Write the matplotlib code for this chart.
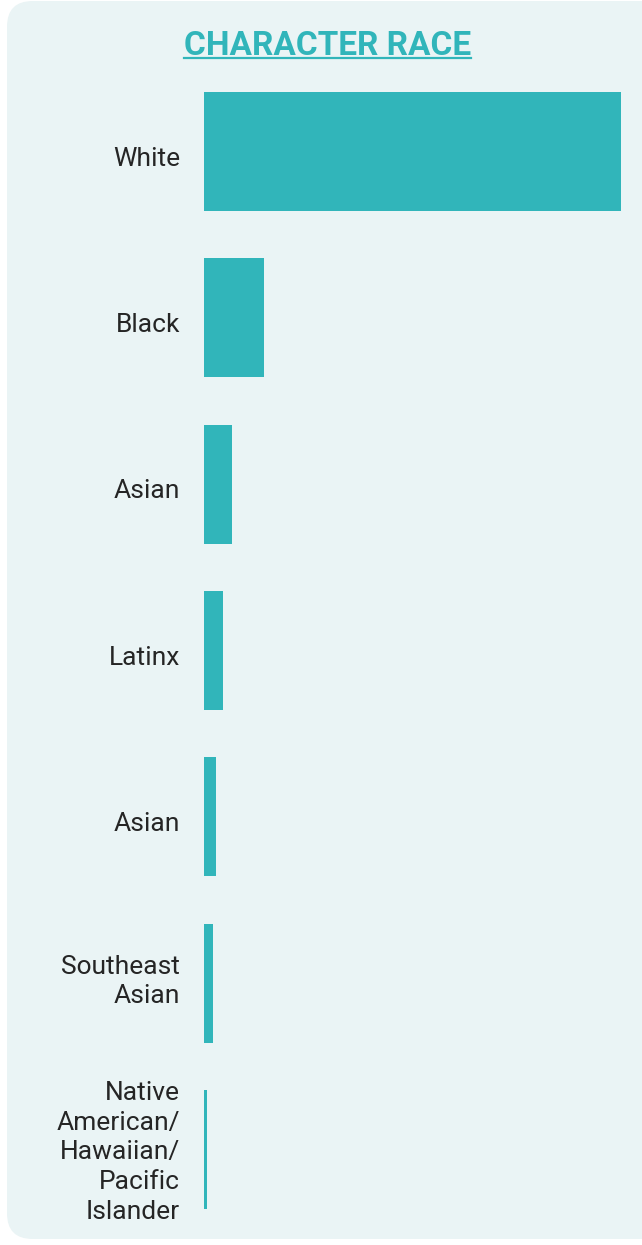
import matplotlib.pyplot as plt
from matplotlib.patches import FancyBboxPatch
from matplotlib.lines import Line2D
from matplotlib.transforms import ScaledTranslation

plt.rcParams['font.family'] = ['Roboto', 'DejaVu Sans']

# share of characters by race (percent)
labels = ['White', 'Black', 'Asian', 'Latinx', 'Asian', 'Southeast\nAsian',
          'Native\nAmerican/\nHawaiian/\nPacific\nIslander']
values = [69.5, 10.0, 4.7, 3.2, 2.0, 1.5, 0.5]

teal = '#31b5ba'
W, H = 642, 1245
fig = plt.figure(figsize=(W / 100, H / 100), dpi=100)
fig.patch.set_facecolor('white')

# rounded background panel
panel = FancyBboxPatch((7 / W, 6 / H), 660 / W, 1238 / H,
                       boxstyle='round,pad=0,rounding_size=0.04',
                       transform=fig.transFigure, facecolor='#eaf4f5',
                       edgecolor='none', zorder=-5,
                       mutation_aspect=W / H)
fig.patches.append(panel)

ax = fig.add_axes([204 / W, 1 - 1232.5 / H, 417 / W, (1232.5 - 68.5) / H])
ax.set_zorder(2)
ax.patch.set_alpha(0)
ypos = list(range(len(values)))
ax.barh(ypos, values, height=0.716, color=teal)
ax.set_xlim(0, 69.5)
ax.set_ylim(len(values) - 0.5, -0.5)
ax.set_yticks([])
ax.set_xticks([])
for s in ax.spines.values():
    s.set_visible(False)

# category labels, right aligned left of the bars
for y, lab in zip(ypos, labels):
    nlines = lab.count('\n') + 1
    dy = {1: -7, 2: 1.5}.get(nlines, -3)
    offset = ScaledTranslation(-24 / 100, dy / 100, fig.dpi_scale_trans)
    ax.text(0, y, lab, transform=ax.get_yaxis_transform() + offset,
            ha='right', va='center', fontsize=19, color='#252525',
            linespacing=1.3)

title = fig.text(0.51, 1 - 55 / H, 'CHARACTER RACE', ha='center', va='baseline',
                 fontsize=24, fontweight='bold', color=teal)

# underline the title
fig.canvas.draw()
bb = title.get_window_extent().transformed(fig.transFigure.inverted())
fig.lines.append(Line2D([bb.x0, bb.x1], [1 - 58 / H, 1 - 58 / H],
                        transform=fig.transFigure, color=teal, linewidth=1.6))

fig.savefig('out.png', dpi=100, facecolor='white')
